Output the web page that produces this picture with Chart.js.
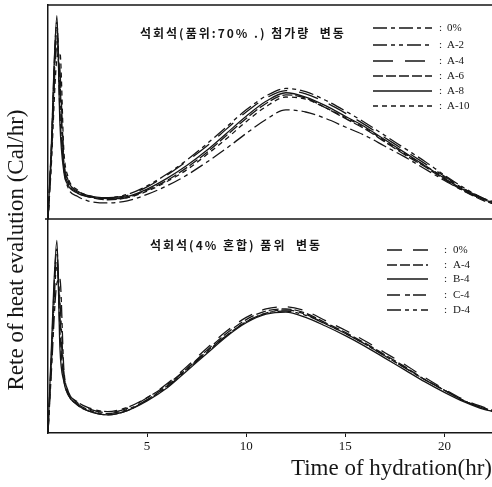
<!DOCTYPE html>
<html>
<head>
<meta charset="utf-8">
<script src="https://cdn.jsdelivr.net/npm/chart.js@4/dist/chart.umd.min.js"></script>
<style>
  html, body { margin: 0; padding: 0; background: #fff; }
  #wrap { width: 492px; height: 487px; position: relative; }
</style>
</head>
<body>
<div id="wrap"><canvas id="heat"></canvas></div>
<script>
// hydration time (hr) shared by every curve
const hours = [0, 0.15, 0.45, 0.6, 0.8, 1, 1.5, 2, 3, 4, 5, 6, 7, 8, 9, 10, 11, 12, 13, 14, 15, 16, 17, 18, 19, 20, 21, 22, 22.5];
const xTicks = [5, 10, 15, 20];

// upper panel: 석회석(품위:70%) 첨가량 변동
const topLabels = ['0%', 'A-2', 'A-4', 'A-6', 'A-8', 'A-10'];
const top0   = [0, 26, 85, 65, 25, 15, 10.5, 8.5, 7.5, 8.5, 11.5, 15.5, 20.5, 26.5, 33, 40, 46.5, 51, 50, 47, 43, 39, 34, 29, 23.5, 18, 13, 9, 7.5];
const topA2  = [0, 28, 88, 60, 26, 18, 13, 11, 10, 11.5, 15.5, 21, 27.5, 35, 43, 51, 57.5, 61, 59.5, 55.5, 50.5, 45, 39, 33, 27, 20.5, 14.5, 9.5, 8];
const topA4  = [0, 25, 80, 70, 28, 18.5, 13, 11, 10, 11, 15, 20.5, 27, 34, 42, 50, 56.5, 60, 58.5, 54.5, 49.5, 44, 38, 32, 26, 20, 14, 9.5, 8];
const topA6  = [0, 29, 92, 50, 24, 17, 12.5, 10.5, 9, 10, 13.5, 18, 24, 31, 39, 47, 54, 58, 56.5, 52, 47, 42, 36, 30, 24.5, 18.5, 13, 8.5, 7];
const topA8  = [0, 30, 95, 45, 22, 16, 12, 10.5, 9.5, 10.5, 14, 19, 25, 32, 40, 48, 55, 59, 57, 53, 48, 43, 37, 31, 25, 19, 13.5, 9, 7.5];
const topA10 = [0, 22, 75, 78, 32, 20, 13.5, 11, 9.5, 10, 13, 17.5, 23, 30, 37.5, 45.5, 52.5, 57, 56, 52, 47.5, 42.5, 36.5, 30.5, 25, 19.5, 14, 9.5, 8];

// lower panel: 석회석(4% 혼합) 품위 변동
const botLabels = ['0%', 'A-4', 'B-4', 'C-4', 'D-4'];
const bot0  = [0, 30, 82, 55, 27, 19.5, 14, 11.5, 9.5, 11.5, 16.5, 23, 31, 39.5, 47.5, 54, 58, 59, 57, 52.5, 48, 43, 37.5, 32, 26, 20.5, 15.5, 12, 10.5];
const botA4 = [0, 32, 86, 48, 25, 18.5, 13, 10.5, 8.5, 10.5, 15.5, 22, 30, 38.5, 46.5, 53, 57, 58, 56, 51.5, 47, 42, 36.5, 31, 25, 20, 15, 11.5, 10];
const botB4 = [0, 35, 90, 40, 24, 18, 13, 10.5, 8.5, 10.5, 15, 21, 29, 37, 45, 51.5, 55.5, 56.5, 54, 50, 45.5, 40.5, 35, 29.5, 24, 19, 14.5, 11, 10];
const botC4 = [0, 25, 70, 72, 30, 20, 14.5, 12, 10, 12, 16.5, 22.5, 30, 38, 45.5, 52, 56, 57.5, 55.5, 51, 46.5, 41.5, 36, 30.5, 25, 20, 15, 11.5, 10.5];
const botD4 = [0, 28, 78, 62, 28, 19, 13.5, 11, 9, 11, 15.5, 21.5, 29.5, 37.5, 45.5, 52, 56, 57, 55, 51, 46.5, 41.5, 36, 30.5, 25, 20, 15, 11.5, 10];

const INK = '#161616';
const SERIF = '"Liberation Serif", "DejaVu Serif", serif';
const KR = '"Noto Sans CJK KR", sans-serif';

// dash patterns as printed in the two legends
const topDash = [[14, 4, 4, 4], [14, 4, 4, 4, 4, 4], [20, 12], [10, 3], [], [5, 4]];
const botDash = [[15, 11], [10, 3], [], [13, 5, 5, 3], [14, 4, 4, 4, 4, 4]];

const toXY = ys => ys.map((y, i) => ({ x: hours[i], y }));

const lineDs = (label, ys, dash, axis) => ({
  label,
  data: toXY(ys),
  yAxisID: axis,
  borderColor: INK,
  borderWidth: 1.3,
  borderDash: dash,
  pointRadius: 0,
  cubicInterpolationMode: 'monotone',
  fill: false
});

const topSeries = [top0, topA2, topA4, topA6, topA8, topA10];
const botSeries = [bot0, botA4, botB4, botC4, botD4];

const datasets = [
  ...topSeries.map((s, i) => lineDs(topLabels[i], s, topDash[i], 'yTop')),
  ...botSeries.map((s, i) => lineDs(botLabels[i], s, botDash[i], 'yBot'))
];

// frame lines, panel captions, legends and the vertical axis title
const decor = {
  id: 'decor',
  afterDraw(chart) {
    const { ctx, chartArea: ca, scales } = chart;
    const mid = scales.yTop.bottom;
    ctx.save();
    ctx.strokeStyle = INK;
    ctx.lineWidth = 1.5;
    ctx.beginPath();
    ctx.moveTo(ca.left - 1, ca.top);
    ctx.lineTo(ca.right, ca.top);
    ctx.moveTo(ca.left - 3, mid);
    ctx.lineTo(ca.right, mid);
    ctx.stroke();

    // captions
    ctx.fillStyle = INK;
    ctx.textBaseline = 'middle';
    ctx.textAlign = 'left';
    ctx.font = `bold 12px ${KR}`;
    ctx.letterSpacing = '2px';
    ctx.fillText('석회석(품위:70% .) 첨가량  변동', 140, 33);
    ctx.fillText('석회석(4% 혼합) 품위  변동', 150, 245);
    ctx.letterSpacing = '0px';

    // legends
    const legend = (labels, dashes, x0, x1, xc, xl, ys) => {
      labels.forEach((lab, i) => {
        ctx.beginPath();
        ctx.setLineDash(dashes[i]);
        ctx.lineWidth = 1.4;
        ctx.moveTo(x0, ys[i]);
        ctx.lineTo(x1, ys[i]);
        ctx.stroke();
        ctx.setLineDash([]);
        ctx.font = `11px ${SERIF}`;
        ctx.fillText(':', xc, ys[i]);
        ctx.fillText(lab, xl, ys[i]);
      });
    };
    legend(topLabels, topDash, 373, 432, 439, 447, [28, 45, 61, 76, 91, 106]);
    legend(botLabels, botDash, 387, 428, 444, 453, [250, 265, 279, 295, 310]);

    // y title
    ctx.translate(17, 250);
    ctx.rotate(-Math.PI / 2);
    ctx.textAlign = 'center';
    ctx.font = `23px ${SERIF}`;
    ctx.fillText('Rete of heat evalution (Cal/hr)', 0, 0);
    ctx.restore();
  }
};

const yPanel = () => ({
  type: 'linear',
  min: 0,
  max: 100,
  position: 'left',
  stack: 'panels',
  stackWeight: 1,
  grid: { display: false },
  border: { display: true, color: INK, width: 1.5 },
  ticks: { display: false },
  afterFit: s => { s.width = 2; }
});

new Chart(document.getElementById('heat'), {
  type: 'line',
  data: { datasets },
  options: {
    responsive: true,
    maintainAspectRatio: false,
    animation: false,
    layout: { padding: { left: 46, top: 5, right: 0, bottom: 0 } },
    plugins: { legend: { display: false }, tooltip: { enabled: false } },
    scales: {
      x: {
        type: 'linear',
        min: 0,
        max: 22.4,
        afterBuildTicks: s => { s.ticks = xTicks.map(v => ({ value: v })); },
        grid: { drawOnChartArea: false, drawTicks: true, tickLength: 4, color: INK },
        border: { display: true, color: INK, width: 1.5 },
        ticks: { color: INK, font: { family: SERIF, size: 13 }, padding: 2, maxRotation: 0 },
        title: {
          display: true,
          text: 'Time of hydration(hr)',
          align: 'end',
          color: INK,
          font: { family: SERIF, size: 23 },
          padding: { top: 6, bottom: 4 }
        },
        afterFit: s => { s.height = 54; }
      },
      // stacked left axes: the later key is laid out on top
      yBot: yPanel(),
      yTop: yPanel()
    }
  },
  plugins: [decor]
});
</script>
</body>
</html>
